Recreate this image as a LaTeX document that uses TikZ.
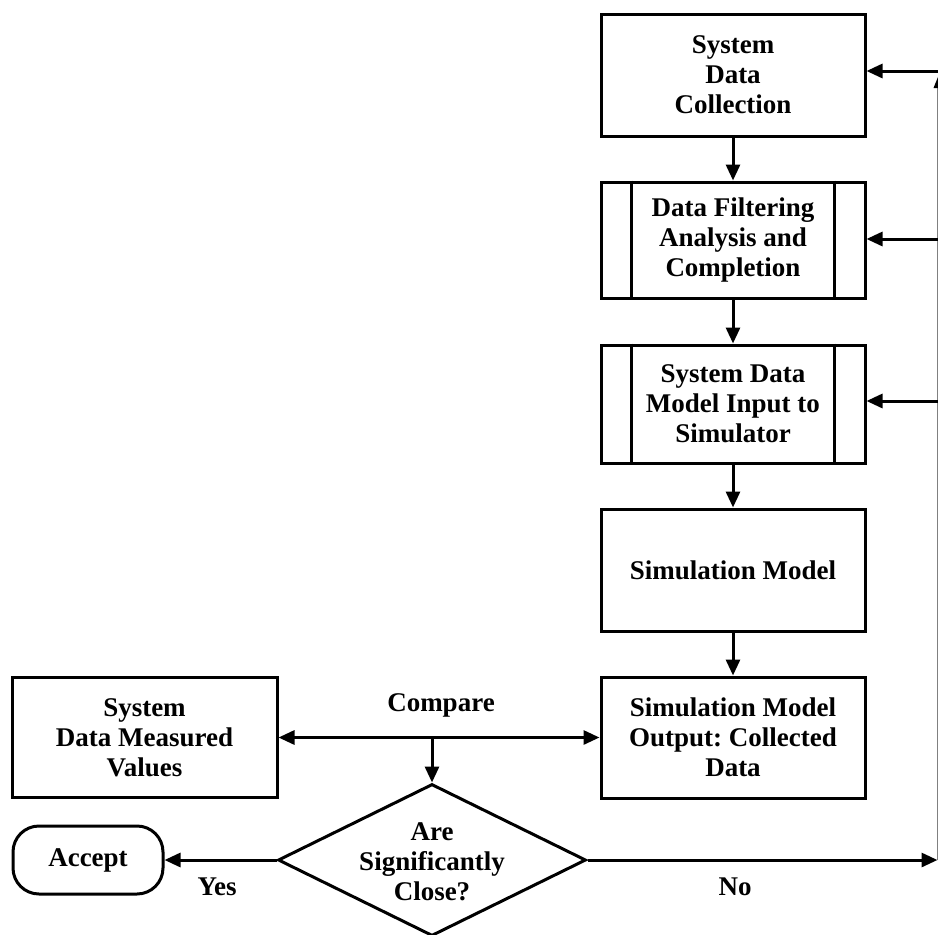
\documentclass[tikz,border=0pt]{standalone}
\usepackage{fontspec}
\setmainfont{Liberation Serif}
\usetikzlibrary{arrows.meta,shapes.geometric}
\frenchspacing
\begin{document}
\begin{tikzpicture}[x=1pt,y=-1pt,
  txt/.style={font=\bfseries\fontsize{27}{30}\selectfont, align=center},
  box/.style={txt, draw, line width=3pt, minimum width=264pt, inner sep=0pt},
  conn/.style={line width=3pt, -{Triangle[length=16pt,width=14pt]}},
  both/.style={line width=3pt, {Triangle[length=16pt,width=14pt]}-{Triangle[length=16pt,width=14pt]}},
  inner/.style={line width=3pt}
]
\useasboundingbox (0,0) rectangle (938,935);
% right column
\node[box, minimum height=122pt] (b1) at (733,75) {System\\Data\\Collection};
\node[box, minimum height=116pt] (b2) at (733,240) {Data Filtering\\Analysis and\\Completion};
\node[box, minimum height=118pt] (b3) at (733,404) {System Data\\Model Input to\\Simulator};
\node[box, minimum height=122pt] (b4) at (733,570) {Simulation Model};
\node[box, minimum height=121pt] (b5) at (733,737.5) {Simulation Model\\Output:\ Collected\\Data};
\draw[inner] ([xshift=32pt]b2.north west) -- ([xshift=32pt]b2.south west);
\draw[inner] ([xshift=-32pt]b2.north east) -- ([xshift=-32pt]b2.south east);
\draw[inner] ([xshift=32pt]b3.north west) -- ([xshift=32pt]b3.south west);
\draw[inner] ([xshift=-32pt]b3.north east) -- ([xshift=-32pt]b3.south east);
% left side
\node[box, minimum width=265pt, minimum height=120pt] (lb) at (144.5,737.5) {System\\Data Measured\\Values};
\node[draw, line width=3pt, minimum width=308pt, minimum height=152pt, diamond, inner sep=0pt] (dia) at (432,860) {};
\node[txt] (dtxt) at (432,862) {Are\\Significantly\\Close?};
\node[txt, draw, line width=3pt, rounded corners=26pt, minimum width=150pt, minimum height=68pt, inner sep=0pt] (acc) at (88,860) {Accept};
% labels
\node[txt] (lcmp) at (441,705) {Compare};
\node[txt] (lyes) at (217,887) {Yes};
\node[txt] (lno) at (735,887) {No};
% coordinates
\coordinate (cmp) at (432,737.5);
\coordinate (rb) at (937.5,860);
\coordinate (r1) at (938,71);
\coordinate (r2) at (938,239);
\coordinate (r3) at (938,401);
\coordinate (rt) at (937.5,86);
% connectors
\draw[conn] (b1) -- (b2);
\draw[conn] (b2) -- (b3);
\draw[conn] (b3) -- (b4);
\draw[conn] (b4) -- (b5);
\draw[both] (lb) -- (b5);
\draw[conn] (cmp) -- (dia.north);
\draw[conn] (dia.west) -- (acc.east);
\draw[conn] (dia.east) -- (rb);
\draw[gray, line width=1.2pt] (rb) -- (rt);
\fill (940,72) -- (946.5,88) -- (933.5,88) -- cycle;
\draw[conn] (r1) -- (b1.east |- r1);
\draw[conn] (r2) -- (b2.east |- r2);
\draw[conn] (r3) -- (b3.east |- r3);
\end{tikzpicture}
\end{document}
